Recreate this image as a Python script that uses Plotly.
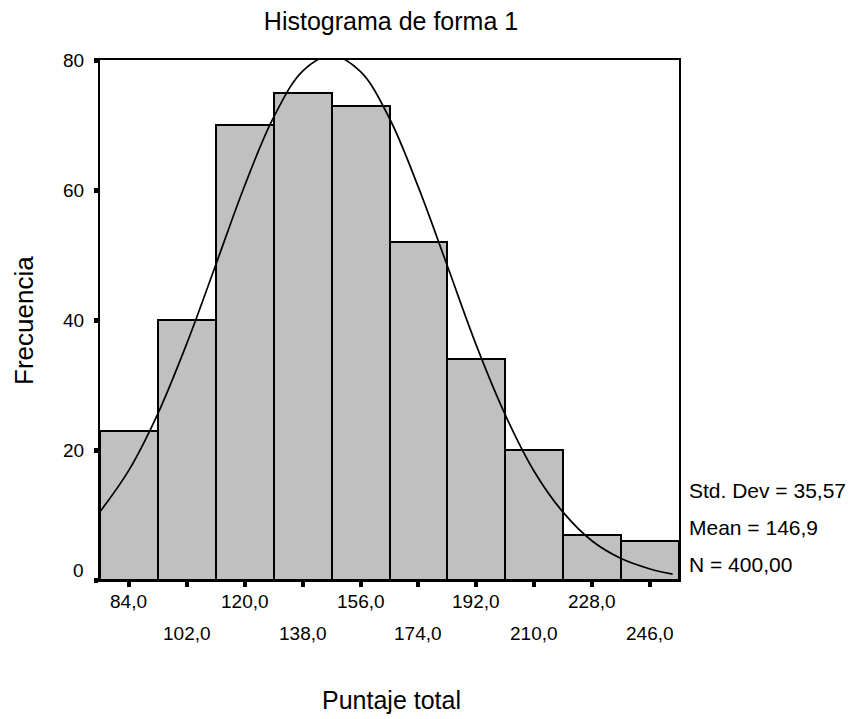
import plotly.graph_objects as go

# ---- data ----
bin_centers = [84, 102, 120, 138, 156, 174, 192, 210, 228, 246]
counts = [23, 40, 70, 75, 73, 52, 34, 20, 7, 6]
bin_width = 18
x_tick_labels = ["84,0", "102,0", "120,0", "138,0", "156,0",
                 "174,0", "192,0", "210,0", "228,0", "246,0"]
y_ticks = [0, 20, 40, 60, 80]

# normal curve
curve_x = [75, 84, 93, 102, 111, 120, 129, 138, 147, 156, 165, 174,
           183, 192, 201, 210, 219, 228, 237, 246, 253]
curve_y = [10.5, 16.9, 25.6, 36.4, 48.5, 60.7, 71.2, 78.3, 80.7, 78.2, 71.0,
           60.4, 48.3, 36.1, 25.4, 16.7, 10.4, 6.0, 3.3, 1.7, 0.9]

stats_lines = ["Std. Dev = 35,57", "Mean = 146,9", "N = 400,00"]

FONT = "Liberation Sans, Arial, sans-serif"

# plot area in pixels
L, R, T, B = 100, 679, 60, 580
W, H = 851, 719


def px(xp):
    return (xp - L) / (R - L)


def py(yp):
    return (B - yp) / (B - T)


fig = go.Figure()
fig.add_trace(go.Bar(
    x=bin_centers, y=counts, width=[bin_width] * len(bin_centers),
    marker=dict(color="#C0C0C0", line=dict(color="black", width=2)),
    hoverinfo="x+y", showlegend=False,
))
fig.add_trace(go.Scatter(
    x=curve_x, y=curve_y, mode="lines",
    line=dict(color="black", width=1.7, shape="spline"),
    showlegend=False, cliponaxis=True,
))

annotations = []
# x tick labels in two staggered rows
for i, (v, t) in enumerate(zip(bin_centers, x_tick_labels)):
    annotations.append(dict(
        x=v, y=0, xref="x", yref="y", text=t, showarrow=False,
        xanchor="center", yanchor="middle",
        yshift=-21 if i % 2 == 0 else -53,
        font=dict(family=FONT, size=19, color="black"),
    ))
# y tick labels
for v in y_ticks:
    annotations.append(dict(
        x=0, y=v, xref="paper", yref="y", text=str(v), showarrow=False,
        xanchor="right", yanchor="middle", xshift=-14,
        yshift=10 if v == 0 else 0,
        font=dict(family=FONT, size=19, color="black"),
    ))
# statistics text
for t, ypix in zip(stats_lines, [491, 527, 564]):
    annotations.append(dict(
        x=px(687), y=py(ypix), xref="paper", yref="paper", text=t,
        showarrow=False, xanchor="left", yanchor="middle",
        font=dict(family=FONT, size=21, color="black"),
    ))
# axis titles
annotations.append(dict(
    x=px(391), y=py(700), xref="paper", yref="paper",
    text="Puntaje total", showarrow=False,
    xanchor="center", yanchor="middle",
    font=dict(family=FONT, size=25, color="black")))
annotations.append(dict(
    x=px(24), y=py(320), xref="paper", yref="paper",
    text="Frecuencia", showarrow=False, textangle=-90,
    xanchor="center", yanchor="middle",
    font=dict(family=FONT, size=26, color="black")))

fig.update_layout(
    width=W, height=H,
    margin=dict(l=L, r=W - R, t=T, b=H - B, autoexpand=False),
    paper_bgcolor="white", plot_bgcolor="white",
    bargap=0,
    font=dict(family=FONT, color="black"),
    title=dict(text="Histograma de forma 1", x=391 / W, xanchor="center",
               y=1 - 21 / H, yanchor="middle",
               font=dict(family=FONT, size=25, color="black")),
    xaxis=dict(range=[75, 255], tickvals=bin_centers, showticklabels=False,
               ticks="outside", ticklen=5, tickwidth=4, tickcolor="black",
               showline=True, linecolor="black", linewidth=2, mirror=True,
               showgrid=False, zeroline=False, fixedrange=True),
    yaxis=dict(range=[0, 80], tickvals=y_ticks, showticklabels=False,
               ticks="outside", ticklen=4, tickwidth=5, tickcolor="black",
               showline=True, linecolor="black", linewidth=2, mirror=True,
               showgrid=False, zeroline=False, fixedrange=True),
    annotations=annotations,
)

fig.write_html(
    "out.html",
    config={"displayModeBar": False},
    post_script="document.body.style.margin='0px';"
                "document.body.style.overflow='hidden';",
)
